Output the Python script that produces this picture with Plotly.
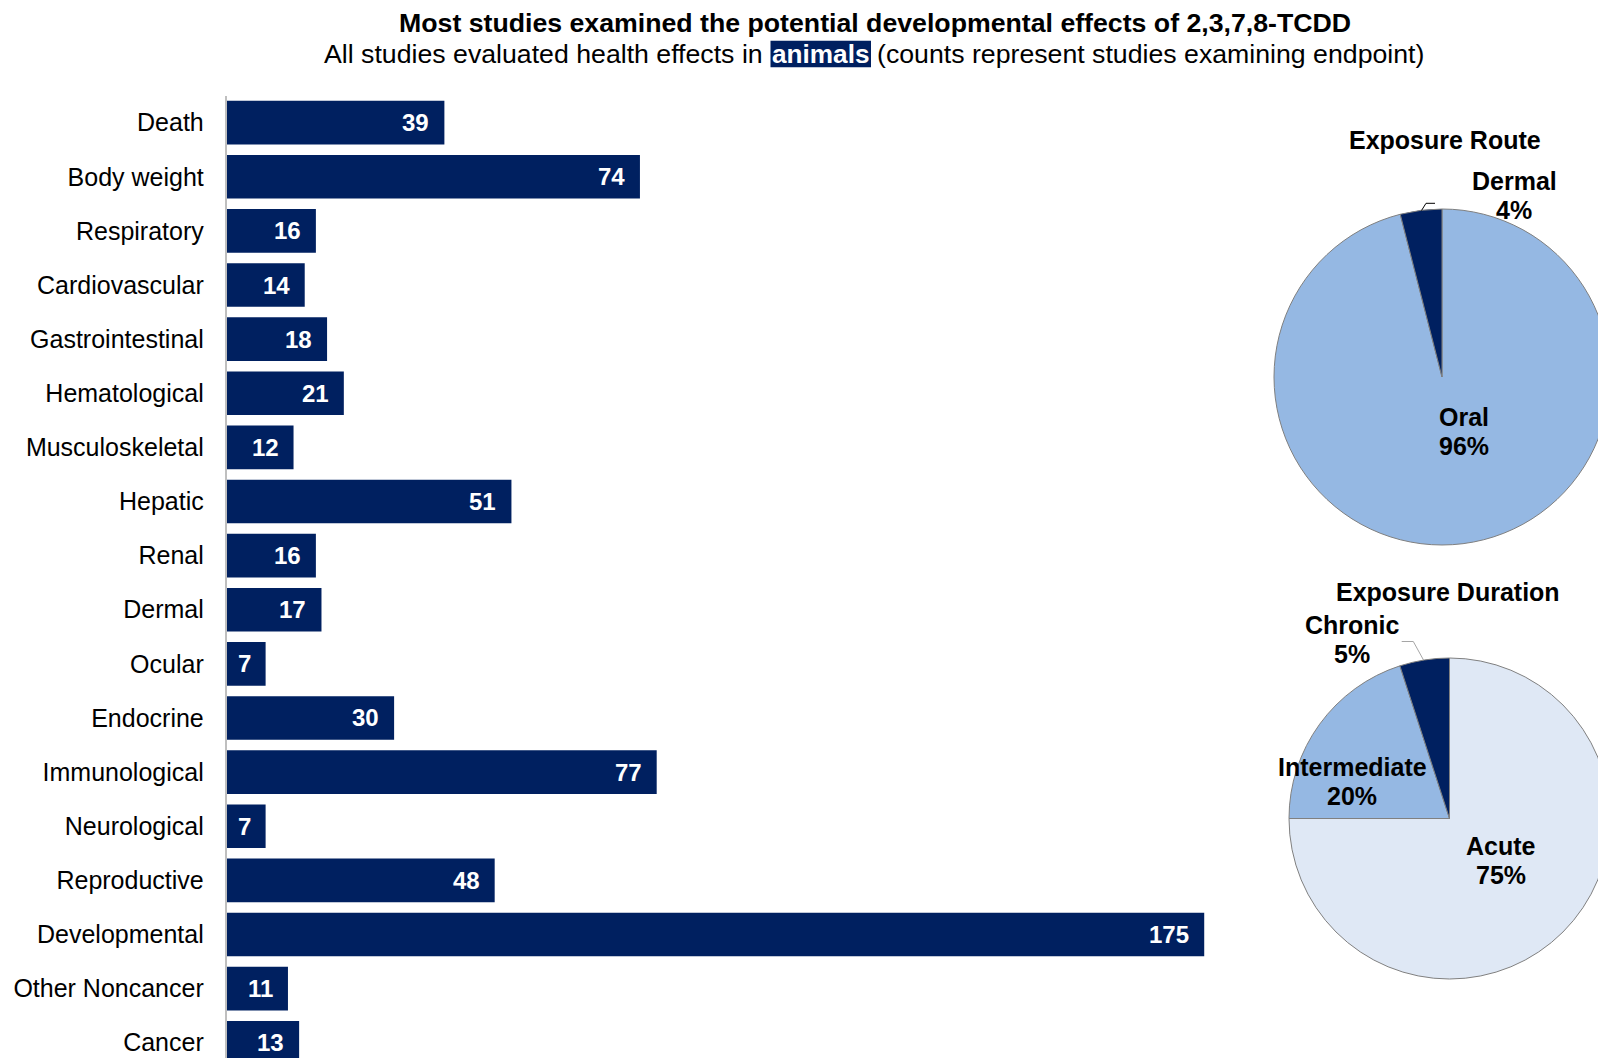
import plotly.graph_objects as go

# Health endpoints examined and number of animal studies for each
endpoints = [
    "Death", "Body weight", "Respiratory", "Cardiovascular", "Gastrointestinal",
    "Hematological", "Musculoskeletal", "Hepatic", "Renal", "Dermal", "Ocular",
    "Endocrine", "Immunological", "Neurological", "Reproductive", "Developmental",
    "Other Noncancer", "Cancer",
]
study_counts = [39, 74, 16, 14, 18, 21, 12, 51, 16, 17, 7, 30, 77, 7, 48, 175, 11, 13]

# Exposure route split (percent of studies)
route_labels = ["Oral", "Dermal"]
route_share = [96, 4]

# Exposure duration split (percent of studies)
duration_labels = ["Acute", "Intermediate", "Chronic"]
duration_share = [75, 20, 5]

# ---- layout constants (pixels) ----
W, H = 1610, 1058
NAVY = "#002060"
MID_BLUE = "#95B8E3"
PALE_BLUE = "#DFE8F5"
EDGE = "#808080"
FONT = "Liberation Sans, Arial, sans-serif"

BAR_LEFT = 226.5          # x of the category axis line
PX_PER_STUDY = 5.587      # horizontal scale of the bar chart
X_MAX = 180
PLOT_TOP = 95.6
ROW_PITCH = 54.12


def fx(p):
    return p / W


def fy(p):
    return 1 - p / H


fig = go.Figure()

# ---- horizontal bar chart ----
fig.add_trace(go.Bar(
    x=study_counts, y=endpoints, orientation="h",
    marker=dict(color=NAVY, line=dict(width=0)),
    xaxis="x", yaxis="y", showlegend=False,
))

rows_visible = (H - PLOT_TOP) / ROW_PITCH
fig.update_layout(
    xaxis=dict(
        domain=[fx(BAR_LEFT), fx(BAR_LEFT + X_MAX * PX_PER_STUDY)],
        range=[0, X_MAX], visible=False, fixedrange=True,
    ),
    yaxis=dict(
        domain=[0, fy(PLOT_TOP)],
        type="category", categoryorder="array", categoryarray=endpoints,
        range=[rows_visible - 0.5, -0.5],
        showline=True, linecolor="#BFBFBF", linewidth=1.5,
        showgrid=False, zeroline=False, ticks="",
        ticklabelstandoff=16,
        tickfont=dict(family=FONT, size=25, color="#000000"),
        automargin=False, fixedrange=True,
    ),
    bargap=0.194,
)

annotations = []
for name, n in zip(endpoints, study_counts):
    annotations.append(dict(
        x=n, y=name, xref="x", yref="y", xanchor="right", yanchor="middle",
        xshift=-13, text=str(n), showarrow=False,
        font=dict(family=FONT, size=24, color="#FFFFFF", weight="bold"),
    ))

# ---- pie charts ----
fig.add_trace(go.Pie(
    labels=route_labels, values=route_share, sort=False,
    direction="clockwise", rotation=0,
    marker=dict(colors=[MID_BLUE, NAVY], line=dict(color=EDGE, width=1)),
    textinfo="none", hoverinfo="label+percent", showlegend=False,
    domain=dict(x=[fx(1274), 1.0], y=[fy(545), fy(209)]),
))
fig.add_trace(go.Pie(
    labels=duration_labels, values=duration_share, sort=False,
    direction="clockwise", rotation=0,
    marker=dict(colors=[PALE_BLUE, MID_BLUE, NAVY], line=dict(color=EDGE, width=1)),
    textinfo="none", hoverinfo="label+percent", showlegend=False,
    domain=dict(x=[fx(1289), 1.0], y=[fy(979), fy(658)]),
))


def paper_text(x, y, text, size=25, bold=True, color="#000000", xanchor="center"):
    annotations.append(dict(
        x=fx(x), y=fy(y), xref="paper", yref="paper",
        xanchor=xanchor, yanchor="middle", text=text, showarrow=False,
        font=dict(family=FONT, size=size, color=color,
                  weight="bold" if bold else "normal"),
    ))


def slice_label(x, y, name, share, gap=29):
    # two-line slice label: category name above its percentage
    paper_text(x, y, name)
    paper_text(x, y + gap, f"{share}%")


paper_text(1445, 140, "Exposure Route")
paper_text(1448, 592, "Exposure Duration")

route_pos = {"Oral": (1464, 417), "Dermal": (1514, 180.5)}
for lab, share in zip(route_labels, route_share):
    x, y = route_pos[lab]
    slice_label(x, y, lab, share)

duration_pos = {"Acute": (1501, 846), "Intermediate": (1352, 766.5), "Chronic": (1352, 625)}
for lab, share in zip(duration_labels, duration_share):
    x, y = duration_pos[lab]
    slice_label(x, y, lab, share)

# ---- titles ----
paper_text(875, 22.5, "Most studies examined the potential developmental effects of 2,3,7,8-TCDD",
           size=26.7)
paper_text(765, 54, "All studies evaluated health effects in", size=26.7, bold=False,
           xanchor="right")
paper_text(820.7, 54, "animals", size=26.2, color="#FFFFFF")
paper_text(874.5, 54, "(counts represent studies examining endpoint)", size=26.7,
           bold=False, xanchor="left")

shapes = [
    # highlight behind the word "animals"
    dict(type="rect", xref="paper", yref="paper",
         x0=fx(770.5), x1=fx(871), y0=fy(67.3), y1=fy(40.8),
         fillcolor=NAVY, line=dict(width=0), layer="below"),
    # leader lines for the small slices
    dict(type="path", xref="paper", yref="paper",
         path=f"M {fx(1421.5)},{fy(210.5)} L {fx(1426)},{fy(203.3)} L {fx(1435)},{fy(203.3)}",
         line=dict(color="#000000", width=1)),
    dict(type="path", xref="paper", yref="paper",
         path=f"M {fx(1423.5)},{fy(660)} L {fx(1413.3)},{fy(641.5)} L {fx(1401.7)},{fy(641.5)}",
         line=dict(color="#A6A6A6", width=1)),
]

fig.update_layout(
    width=W, height=H,
    margin=dict(l=0, r=0, t=0, b=0, pad=0),
    paper_bgcolor="#FFFFFF", plot_bgcolor="#FFFFFF",
    font=dict(family=FONT, color="#000000"),
    annotations=annotations, shapes=shapes,
    showlegend=False,
)

fig.write_html("out.html")
